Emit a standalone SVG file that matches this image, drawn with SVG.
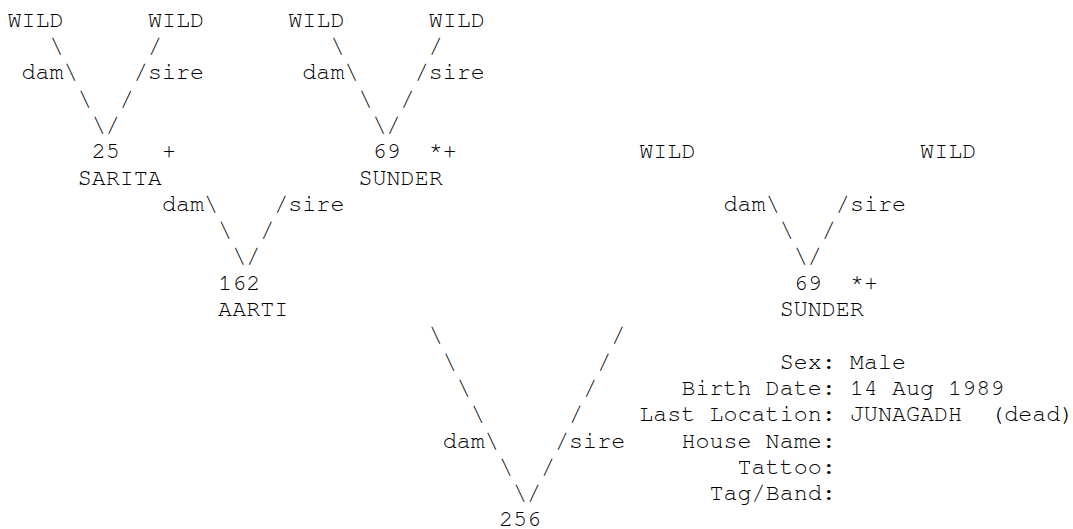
<svg xmlns="http://www.w3.org/2000/svg" width="1073" height="529" viewBox="0 0 1073 529" xml:space="preserve">
<style>
text { font-family: "Nimbus Mono PS", "Nimbus Mono L", "FreeMono", "Courier New", "Liberation Mono", monospace; font-size: 23.4px; fill: #000; white-space: pre; }
</style>
<rect x="0" y="0" width="1073" height="529" fill="#fff"/>
<g id="connectors">
  <text x="49.62" y="53">\</text>
  <text x="147.9" y="53">/</text>
  <text x="330.42" y="53">\</text>
  <text x="428.7" y="53">/</text>
  <text x="21.54" y="79.3">dam\</text>
  <text x="133.86" y="79.3">/sire</text>
  <text x="302.34" y="79.3">dam\</text>
  <text x="414.66" y="79.3">/sire</text>
  <text x="77.7" y="105.6">\</text>
  <text x="119.82" y="105.6">/</text>
  <text x="358.5" y="105.6">\</text>
  <text x="400.62" y="105.6">/</text>
  <text x="91.74" y="131.9">\/</text>
  <text x="372.54" y="131.9">\/</text>
  <text x="161.94" y="210.8">dam\</text>
  <text x="274.26" y="210.8">/sire</text>
  <text x="723.54" y="210.8">dam\</text>
  <text x="835.86" y="210.8">/sire</text>
  <text x="218.1" y="237.1">\</text>
  <text x="260.22" y="237.1">/</text>
  <text x="779.7" y="237.1">\</text>
  <text x="821.82" y="237.1">/</text>
  <text x="232.14" y="263.4">\/</text>
  <text x="793.74" y="263.4">\/</text>
  <text x="428.7" y="342.3">\</text>
  <text x="611.22" y="342.3">/</text>
  <text x="442.74" y="368.6">\</text>
  <text x="597.18" y="368.6">/</text>
  <text x="456.78" y="394.9">\</text>
  <text x="583.14" y="394.9">/</text>
  <text x="470.82" y="421.2">\</text>
  <text x="569.1" y="421.2">/</text>
  <text x="442.74" y="447.5">dam\</text>
  <text x="555.06" y="447.5">/sire</text>
  <text x="498.9" y="473.8">\</text>
  <text x="541.02" y="473.8">/</text>
  <text x="512.94" y="500.1">\/</text>
</g>
<g id="node-wild-1"><text x="7.5" y="26.7">WILD</text></g>
<g id="node-wild-2"><text x="147.9" y="26.7">WILD</text></g>
<g id="node-wild-3"><text x="288.3" y="26.7">WILD</text></g>
<g id="node-wild-4"><text x="428.7" y="26.7">WILD</text></g>
<g id="node-25-sarita">
  <text x="91.74" y="158.2">25</text>
  <text x="161.94" y="158.2">+</text>
  <text x="77.7" y="184.5">SARITA</text>
</g>
<g id="node-69-sunder-a">
  <text x="372.54" y="158.2">69</text>
  <text x="428.7" y="158.2">*+</text>
  <text x="358.5" y="184.5">SUNDER</text>
</g>
<g id="node-wild-5"><text x="639.3" y="158.2">WILD</text></g>
<g id="node-wild-6"><text x="920.1" y="158.2">WILD</text></g>
<g id="node-162-aarti">
  <text x="218.1" y="289.7">162</text>
  <text x="218.1" y="316">AARTI</text>
</g>
<g id="node-69-sunder-b">
  <text x="793.74" y="289.7">69</text>
  <text x="849.9" y="289.7">*+</text>
  <text x="779.7" y="316">SUNDER</text>
</g>
<g id="node-256">
  <text x="498.9" y="526.4">256</text>
</g>
<g id="info">
  <text x="779.7" y="368.6">Sex: Male</text>
  <text x="681.42" y="394.9">Birth Date: 14 Aug 1989</text>
  <text x="639.3" y="421.2">Last Location: JUNAGADH  (dead)</text>
  <text x="681.42" y="447.5">House Name:</text>
  <text x="737.58" y="473.8">Tattoo:</text>
  <text x="709.5" y="500.1">Tag/Band:</text>
</g>
</svg>
